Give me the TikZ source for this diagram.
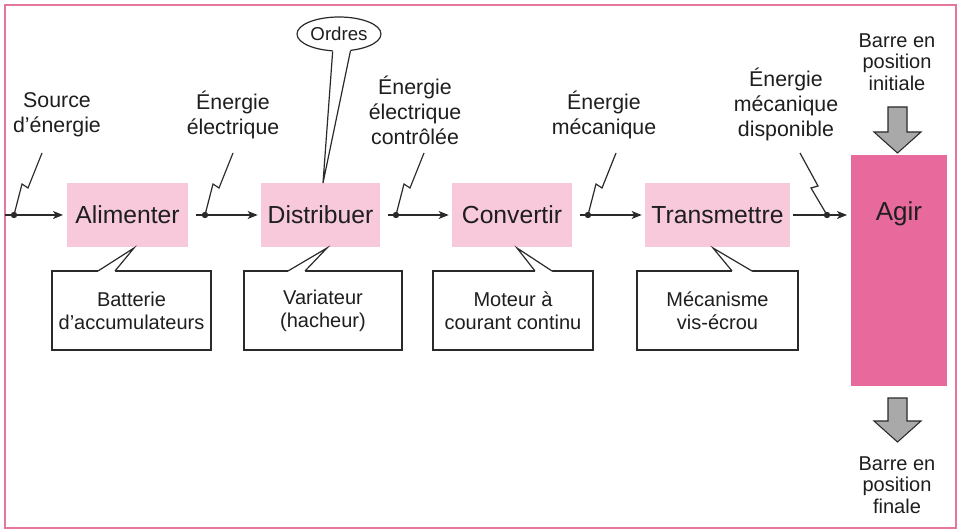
\documentclass[tikz,border=0pt]{standalone}
\usepackage{fontspec}
\setmainfont{Liberation Sans}
\usetikzlibrary{arrows.meta,calc,shapes.geometric}
\definecolor{pinkL}{HTML}{F7C9DB}
\definecolor{pinkD}{HTML}{E86A9C}
\definecolor{frameC}{HTML}{E5779F}
\definecolor{ink}{HTML}{1E1E1E}
\definecolor{wireC}{HTML}{2A2A2A}
\definecolor{arrowgray}{HTML}{A9A9A9}
\begin{document}
\begin{tikzpicture}[x=0.75pt,y=-0.75pt,
  func/.style={fill=pinkL, inner sep=0pt, outer sep=0pt, minimum height=48pt,
    text=ink, font=\fontsize{18.5}{22}\selectfont},
  callbox/.style={draw=wireC, line width=0.9pt, fill=white, inner sep=0pt, outer sep=0pt,
    minimum height=59.25pt, align=center, text=ink, font=\fontsize{15}{17.25}\selectfont},
  lbl/.style={align=center, text=ink, inner sep=0pt, font=\fontsize{16}{18.75}\selectfont},
  barre/.style={align=center, text=ink, inner sep=0pt, font=\fontsize{15}{16.1}\selectfont},
  wire/.style={draw=wireC, line width=0.9pt, line join=miter},
  flow/.style={wire, -{Stealth[length=7.5pt,width=6pt,inset=2pt]}},
  dotc/.style={fill=wireC},
  blockarrow/.style={fill=arrowgray, draw=wireC, line width=0.8pt, line join=miter}]
\useasboundingbox (0,0) rectangle (961,531);
\fill[white] (0,0) rectangle (961,531);
\draw[frameC, line width=1.2pt] (5,5) rectangle (956,528);

% function boxes
\node[func, minimum width=90.75pt] (alim) at (127.5,215) {Alimenter};
\node[func, minimum width=89.25pt] (dist) at (320.5,215) {Distribuer};
\node[func, minimum width=90pt] (conv) at (512,215) {Convertir};
\node[func, minimum width=108.75pt] (trans) at (717.5,215) {Transmettre};
\node[fill=pinkD, inner sep=0pt, outer sep=0pt, minimum width=72pt, minimum height=173.25pt] (agir) at (899,270.5) {};
\node[text=ink, inner sep=0pt, font=\fontsize{19.5}{22}\selectfont] (agirtxt) at (899,214) {Agir};

% flow lines
\coordinate (s0) at (5,215);
\coordinate (d1) at (14,215);
\coordinate (d2) at (205,215);
\coordinate (d3) at (396,215);
\coordinate (d4) at (588,215);
\coordinate (d5) at (827,215);
\draw[flow, shorten >=3pt] (s0) -- (alim.west);
\draw[flow, shorten <=6pt, shorten >=2.5pt] (alim.east) -- (dist.west);
\draw[flow, shorten <=6pt, shorten >=2.5pt] (dist.east) -- (conv.west);
\draw[flow, shorten <=6pt, shorten >=2.5pt] (conv.east) -- (trans.west);
\draw[flow, shorten <=2pt, shorten >=3pt] (trans.east) -- (agir.west |- trans.east);

% zigzags
\foreach \d in {d1,d2,d3,d4}{
  \draw[wire] (\d) -- ++(8,-31) -- ++(6,4) -- ++(14,-35);
  \fill[dotc] (\d) circle[radius=2.4pt];
}
\draw[wire] (d5) -- ++(-16,-27) -- ++(7,-2) -- ++(-18,-33);
\fill[dotc] (d5) circle[radius=2.4pt];

% labels
\node[lbl] (l1) at (57,115) {Source\\d’énergie};
\node[lbl] (l2) at (233,115) {Énergie\\électrique};
\node[lbl] (l3) at (415,110) {Énergie\\électrique\\contrôlée};
\node[lbl] (l4) at (604,115) {Énergie\\mécanique};
\node[lbl] (l5) at (786,104) {Énergie\\mécanique\\disponible};

% Ordres
\node[ellipse, draw=wireC, line width=0.9pt, fill=white, inner sep=0pt,
  minimum width=63pt, minimum height=25.5pt, text=ink,
  font=\fontsize{14}{16}\selectfont] (ord) at (339,34) {Ordres};
\coordinate (ordtip) at ($(dist.north)+(2.5,0)$);
\fill[white] (ord.250) -- (ordtip) -- (ord.304) -- ($(ord.304)+(0,-2)$) -- ($(ord.250)+(0,-2)$) -- cycle;
\draw[wire] (ord.250) -- (ordtip) -- (ord.304);

% callouts
\node[callbox, minimum width=119.25pt] (bat) at (131.5,310.5) {Batterie\\d’accumulateurs};
\node[callbox, minimum width=118.5pt] (var) at (323,310.5) {Variateur\\(hacheur)};
\node[callbox, minimum width=120pt] (mot) at (513,310.5) {Moteur à\\courant continu};
\node[callbox, minimum width=120.75pt] (mec) at (717.5,310.5) {Mécanisme\\vis-écrou};

\coordinate (batL) at ($(bat.north west)+(46,0)$);
\coordinate (batR) at ($(bat.north west)+(63,0)$);
\coordinate (batT) at ($(alim.south)+(6.5,1)$);
\coordinate (varL) at ($(var.north west)+(44,0)$);
\coordinate (varR) at ($(var.north west)+(61,0)$);
\coordinate (varT) at ($(dist.south)+(6.5,1)$);
\coordinate (motL) at ($(mot.north west)+(102,0)$);
\coordinate (motR) at ($(mot.north west)+(119,0)$);
\coordinate (motT) at ($(conv.south)+(5,1)$);
\coordinate (mecL) at ($(mec.north west)+(95,0)$);
\coordinate (mecR) at ($(mec.north west)+(115,0)$);
\coordinate (mecT) at ($(trans.south)+(-4.5,1)$);
\foreach \c in {bat,var,mot,mec}{
  \fill[white] (\c L) -- (\c T) -- (\c R) -- ($(\c R)+(0,1.6)$) -- ($(\c L)+(0,1.6)$) -- cycle;
  \draw[wire] (\c L) -- (\c T) -- (\c R);
}

% Barre texts and block arrows
\node[barre] (bi) at (897,62) {Barre en\\position\\initiale};
\node[barre] (bf) at (897,485) {Barre en\\position\\finale};
\draw[blockarrow] (888,107) -- (907,107) -- (907,132) -- (921,132) -- (897.5,153) -- (874,132) -- (888,132) -- cycle;
\draw[blockarrow] (888,398) -- (907,398) -- (907,421) -- (921,421) -- (897.5,442) -- (874,421) -- (888,421) -- cycle;
\end{tikzpicture}
\end{document}
